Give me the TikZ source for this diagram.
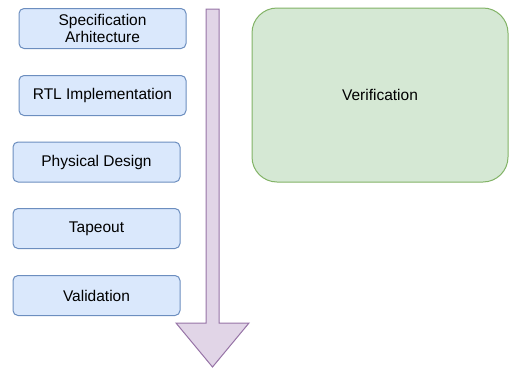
\documentclass[tikz,border=0pt]{standalone}
\usepackage{fontspec}
\setmainfont{Liberation Sans}
\definecolor{etapefond}{HTML}{DAE8FC}
\definecolor{etapebord}{HTML}{6C8EBF}
\definecolor{verifond}{HTML}{D5E8D4}
\definecolor{veribord}{HTML}{82B366}
\definecolor{flechefond}{HTML}{E1D5E7}
\definecolor{flechebord}{HTML}{9673A6}
\tikzset{
    etape/.style={draw=etapebord, fill=etapefond, line width=1pt, rounded corners=5pt,
        minimum width=167pt, minimum height=40pt, inner sep=0pt, align=center,
        font=\fontsize{15.5}{17.5}\selectfont},
    verif/.style={draw=veribord, fill=verifond, line width=1pt, rounded corners=25pt,
        minimum width=256pt, minimum height=174pt, inner sep=0pt,
        font=\fontsize{15.5}{17.5}\selectfont},
}
\begin{document}
\begin{tikzpicture}[x=1pt, y=-1pt]
    % Cadre de la page
    \useasboundingbox (0,0) rectangle (509,370);
    % Flèche du flot de conception
    \draw[draw=flechebord, fill=flechefond, line width=1pt, line join=miter]
        (206,9) -- (219,9) -- (219,323) -- (249,323) -- (212.5,367)
        -- (176,323) -- (206,323) -- cycle;
    % Etapes
    \node[etape] (spec) at (102.5,28.5) {Specification\\Arhitecture};
    \node[etape] (rtl) at (102.5,95.5) {RTL Implementation};
    \node[etape] (phys) at (96.5,162) {Physical Design};
    \node[etape] (tape) at (96.5,228.5) {Tapeout};
    \node[etape] (valid) at (96.5,295.5) {Validation};
    % Vérification
    \node[verif] (verif) at (380,95) {Verification};
\end{tikzpicture}
\end{document}
